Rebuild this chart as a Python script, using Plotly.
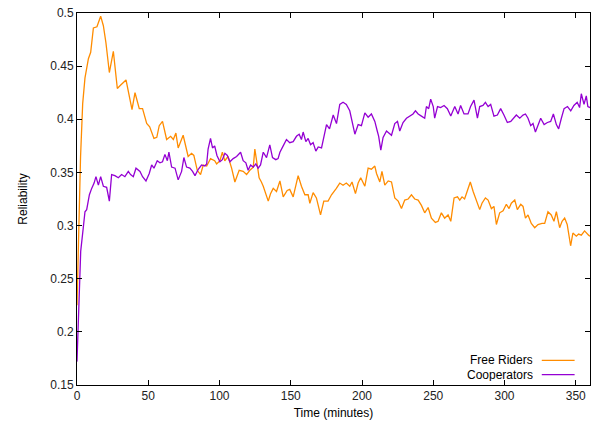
import plotly.graph_objects as go

# ---- data ----
time_free = [0, 1, 2.5, 4, 5.6, 8, 9.6, 11.5, 14, 16.6, 18.5, 20.3, 22.7, 25.5, 28.3, 30.5, 34.4, 38.6, 40.7,
             43.7, 46, 48.9, 51, 54, 56, 57.7, 60, 62.9, 65.7, 67.6, 69.4, 71, 74.5, 78, 80.4, 82, 84.4, 86.7,
             88.6, 91, 93.7, 96.6, 98, 100.3, 102, 103.7, 106, 108.5, 110.8, 113.8, 116.6, 119, 121.3, 123.7,
             124.8, 126.5, 127.8, 129.4, 130.7, 134.2, 135.8, 137.7, 140, 142.4, 144.7, 147.5, 149.3, 151.7,
             155.2, 157.5, 159.9, 162.2, 163.4, 165.7, 168, 170.9, 173.2, 176.2, 178.6, 182, 184.4, 186.7, 189,
             191.4, 193, 195.4, 197.3, 199.1, 202, 204.3, 206.6, 209, 210.2, 212.5, 214, 216, 218.4, 220.7,
             223, 225.4, 227.7, 230, 232.4, 234.7, 237, 239.4, 241.7, 244, 246.4, 248.7, 251.5, 253.4, 255.7,
             258, 260.4, 262.3, 264.6, 267, 268.6, 270.2, 272, 274, 276, 278, 280.3, 282.6, 284.2, 286.6,
             288.5, 290.8, 292.6, 294.3, 296.6, 299, 301.3, 303.2, 304.8, 307.2, 309, 311.4, 313, 314.7, 316.5,
             318.8, 321.2, 323.5, 326.3, 328.2, 330.5, 332.8, 334.7, 336.4, 338.7, 340.4, 342.2, 344, 346.4,
             348, 350.4, 352, 353.9, 356.2, 359, 360]
rel_free = [0.225, 0.29, 0.365, 0.415, 0.439, 0.457, 0.463, 0.486, 0.487, 0.497, 0.488, 0.472, 0.444, 0.464,
            0.429, 0.432, 0.437, 0.409, 0.425, 0.410, 0.410, 0.396, 0.393, 0.382, 0.383, 0.394, 0.398, 0.381,
            0.384, 0.381, 0.387, 0.373, 0.385, 0.365, 0.368, 0.366, 0.352, 0.348, 0.357, 0.356, 0.363, 0.361,
            0.358, 0.361, 0.369, 0.361, 0.365, 0.354, 0.341, 0.352, 0.351, 0.348, 0.352, 0.355, 0.372, 0.357,
            0.345, 0.341, 0.337, 0.323, 0.330, 0.335, 0.332, 0.342, 0.327, 0.333, 0.334, 0.327, 0.347, 0.337,
            0.329, 0.329, 0.321, 0.331, 0.326, 0.310, 0.323, 0.323, 0.329, 0.335, 0.340, 0.338, 0.340, 0.337,
            0.341, 0.330, 0.340, 0.345, 0.337, 0.354, 0.353, 0.356, 0.349, 0.341, 0.351, 0.338, 0.342, 0.341,
            0.326, 0.323, 0.316, 0.324, 0.325, 0.329, 0.325, 0.324, 0.319, 0.312, 0.317, 0.307, 0.303, 0.304,
            0.312, 0.307, 0.310, 0.304, 0.326, 0.327, 0.324, 0.327, 0.325, 0.333, 0.341, 0.332, 0.323, 0.315,
            0.321, 0.326, 0.324, 0.316, 0.318, 0.301, 0.312, 0.314, 0.320, 0.316, 0.321, 0.324, 0.315, 0.320,
            0.318, 0.307, 0.310, 0.302, 0.298, 0.301, 0.302, 0.302, 0.313, 0.310, 0.304, 0.313, 0.298, 0.304,
            0.307, 0.301, 0.281, 0.293, 0.290, 0.292, 0.291, 0.295, 0.291, 0.290]

time_coop = [0, 1, 1.6, 2.6, 4.4, 5.6, 6.8, 8.7, 10.3, 12, 13.3, 15, 16.6, 18.5, 20.8, 22.7, 24.3, 26.6, 29,
             31.3, 33.6, 36, 37.6, 39.5, 41.4, 44.2, 46, 48.4, 50.7, 52.4, 54, 56.3, 58.2, 60, 61.7, 63.4, 64.5,
             66.4, 68.8, 71, 73.4, 75, 76.9, 79.2, 81.1, 82.8, 85.1, 87.4, 89.7, 91, 92, 93.7, 95.1, 96.6, 98.2,
             100.3, 102, 103.8, 105.5, 107.3, 109.6, 112, 114.8, 116.6, 118.5, 120.1, 121.8, 123.7, 125.5,
             127.1, 128.8, 130.7, 133, 135.3, 137.2, 139.5, 141.1, 142.4, 144.7, 147, 149.3, 151.7, 154, 155.9,
             157.5, 158.7, 160.6, 162.2, 163.9, 165.7, 167.6, 169.3, 171.6, 173.2, 175.1, 177.2, 179.8, 182.1,
             184.4, 186.7, 189, 191.4, 193, 195, 197.3, 199.6, 202, 204.3, 206.6, 209, 210.7, 211.7, 213.2,
             214.8, 217.2, 218.8, 220.7, 223, 224.9, 226.5, 228.8, 231.2, 233.5, 235.8, 237.5, 239.4, 241.7,
             244, 245.2, 246.8, 248.2, 250, 251, 253, 255.2, 257.6, 259.9, 262.3, 265.1, 267.4, 269.2, 271.6,
             274.4, 276.2, 278.6, 281, 282.6, 284.9, 286.6, 288.5, 290.3, 292.6, 295, 297.3, 299.6, 302, 304.4,
             306.7, 308.3, 310.7, 313, 314.7, 316.5, 318.4, 320, 321.7, 323.5, 325.4, 327.8, 330.1, 332.4,
             334.3, 336.4, 338, 339.9, 341.8, 344.2, 346.5, 348.7, 351, 352.7, 353.9, 355.8, 357.4, 358.5, 360]
rel_coop = [0.172, 0.215, 0.245, 0.276, 0.298, 0.313, 0.315, 0.329, 0.335, 0.340, 0.346, 0.338, 0.346, 0.337,
            0.336, 0.323, 0.348, 0.347, 0.345, 0.348, 0.346, 0.351, 0.348, 0.346, 0.354, 0.351, 0.346, 0.342,
            0.349, 0.357, 0.354, 0.361, 0.359, 0.360, 0.367, 0.361, 0.369, 0.355, 0.354, 0.343, 0.351, 0.364,
            0.355, 0.354, 0.351, 0.347, 0.353, 0.357, 0.356, 0.358, 0.372, 0.382, 0.373, 0.375, 0.366, 0.360,
            0.362, 0.368, 0.366, 0.360, 0.363, 0.365, 0.369, 0.361, 0.359, 0.352, 0.357, 0.355, 0.358, 0.354,
            0.357, 0.369, 0.364, 0.376, 0.364, 0.362, 0.363, 0.369, 0.375, 0.381, 0.378, 0.379, 0.384, 0.386,
            0.381, 0.388, 0.379, 0.382, 0.376, 0.378, 0.370, 0.374, 0.373, 0.383, 0.395, 0.391, 0.404, 0.396,
            0.414, 0.416, 0.414, 0.408, 0.399, 0.386, 0.395, 0.394, 0.406, 0.402, 0.405, 0.398, 0.389, 0.384,
            0.371, 0.383, 0.389, 0.387, 0.385, 0.396, 0.398, 0.389, 0.397, 0.401, 0.403, 0.405, 0.408, 0.405,
            0.403, 0.401, 0.412, 0.410, 0.419, 0.412, 0.401, 0.412, 0.411, 0.413, 0.410, 0.403, 0.412, 0.405,
            0.413, 0.405, 0.405, 0.412, 0.418, 0.401, 0.412, 0.413, 0.416, 0.412, 0.414, 0.403, 0.404, 0.410,
            0.404, 0.397, 0.398, 0.401, 0.404, 0.401, 0.404, 0.405, 0.401, 0.394, 0.396, 0.388, 0.395, 0.401,
            0.395, 0.397, 0.398, 0.405, 0.395, 0.391, 0.401, 0.410, 0.412, 0.408, 0.413, 0.416, 0.411, 0.424,
            0.414, 0.422, 0.412, 0.411]

series_names = ["Free Riders", "Cooperators"]
series_colors = ["#ff8c00", "#9400d3"]
x_ticks = [0, 50, 100, 150, 200, 250, 300, 350]
y_ticks = [0.15, 0.2, 0.25, 0.3, 0.35, 0.4, 0.45, 0.5]

FONT = "Liberation Sans, Arial, sans-serif"

fig = go.Figure()
for t, v, name, col in [(time_free, rel_free, series_names[0], series_colors[0]),
                        (time_coop, rel_coop, series_names[1], series_colors[1])]:
    fig.add_trace(go.Scatter(x=t, y=v, mode="lines", name=name,
                             line=dict(color=col, width=1.3), showlegend=False))

axis_common = dict(showline=True, linecolor="black", linewidth=1, mirror="allticks",
                   ticks="inside", ticklen=5, tickcolor="black", showgrid=False, zeroline=False,
                   tickfont=dict(family=FONT, size=12, color="#222"))

fig.update_xaxes(range=[0, 360], tickvals=x_ticks,
                 title=dict(text="Time (minutes)", font=dict(family=FONT, size=12, color="black"), standoff=6),
                 **axis_common)
fig.update_yaxes(range=[0.15, 0.5], tickvals=y_ticks,
                 ticktext=[f"{v:g}" for v in y_ticks],
                 title=dict(text="Reliability", font=dict(family=FONT, size=12, color="black"), standoff=20),
                 **axis_common)

# gnuplot-style legend: text right-aligned, sample line to its right
legend_rows_y = [0.066, 0.028]
for i, (name, col) in enumerate(zip(series_names, series_colors)):
    fig.add_annotation(xref="paper", yref="paper", x=0.891, y=legend_rows_y[i], text=name,
                       showarrow=False, xanchor="right", yanchor="middle", borderpad=0, height=12,
                       font=dict(family=FONT, size=12, color="black"))
    fig.add_shape(type="line", xref="paper", yref="paper", x0=0.906, x1=0.970,
                  y0=legend_rows_y[i], y1=legend_rows_y[i], line=dict(color=col, width=1.3))

fig.update_layout(width=597, height=425, paper_bgcolor="white", plot_bgcolor="white",
                  margin=dict(l=77, r=6, t=10, b=40),
                  font=dict(family=FONT, size=12, color="black"))

fig.write_html("out.html", config={"displayModeBar": False},
               post_script="document.body.style.margin='0';")
